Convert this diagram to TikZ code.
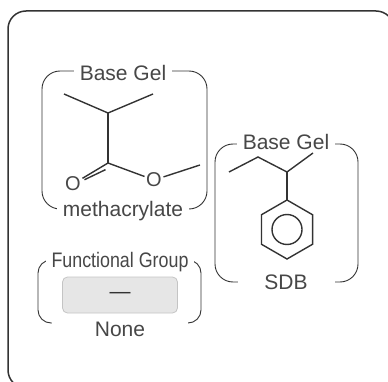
\documentclass[tikz,border=0pt]{standalone}
\usepackage{fontspec}
\setmainfont{Liberation Sans}
\usepackage{graphicx}
\usetikzlibrary{positioning}
\definecolor{ink}{HTML}{333333}
\definecolor{gelgrey}{HTML}{E6E6E6}
\definecolor{geledge}{HTML}{C4C4C4}
\tikzset{
  bond/.style={ink, line width=1.4pt},
  brack/.style={ink, line width=0.9pt, rounded corners=18pt},
  lbl/.style={fill=white, inner xsep=6pt, inner ysep=1pt, text=ink!90, font=\fontsize{21}{24}\selectfont},
  atom/.style={inner sep=1.5pt, text=ink!90, font=\fontsize{20}{22}\selectfont}
}

\begin{document}
\begin{tikzpicture}[x=1pt,y=-1pt]
            \useasboundingbox (0,0) rectangle (388,382);
            \draw[ink, line width=1.5pt, rounded corners=18pt] (8,11) rectangle (394,388);

            % methacrylate
            \draw[brack] (42,71) rectangle (207,209);
            \node[lbl] (mgel) at (123,73) {Base Gel};
            \node[lbl] (mname) at (123,211) {methacrylate};
            \coordinate (ml) at (64,94);
            \coordinate (mr) at (153,94);
            \coordinate (mch) at (108,113);
            \coordinate (mc) at (108,163);
            \node[atom] (mo) at (73,184) {O};
            \node[atom] (meo) at (154,180) {O};
            \coordinate (mme) at (200,165);
            \draw[bond] (ml) -- (mch) -- (mr);
            \draw[bond] (mch) -- (mc);
            \draw[bond] (mc) -- (mo);
            \draw[bond, shorten <=5pt] ([shift={(2,4.5)}]mc) -- ([shift={(2,4.5)}]mo.north east);
            \draw[bond] (mc) -- (meo);
            \draw[bond] (meo) -- (mme);

            % SDB
            \draw[brack] (215,144) rectangle (358,282);
            \node[lbl] (sgel) at (286,142) {Base Gel};
            \node[lbl, minimum width=97pt] (sname) at (286,282) {SDB};
            \coordinate (s1) at (229,172);
            \coordinate (s2) at (258,157);
            \coordinate (s3) at (287,172);
            \coordinate (s4) at (313,153);
            \coordinate (rtop) at (287,200);
            \coordinate (ring) at (287,229.5);
            \draw[bond] (s1) -- (s2) -- (s3) -- (s4);
            \draw[bond] (s3) -- (rtop);
            \draw[bond] (ring) +(90:29.5) -- +(30:29.5) -- +(-30:29.5) -- +(-90:29.5) -- +(-150:29.5) -- +(150:29.5) -- cycle;
            \draw[bond] (ring) circle[radius=15];

            % functional group
            \draw[brack, rounded corners=13pt] (38,260) rectangle (201,323);
            \node[lbl] (fgel) at (120,262) {\scalebox{0.85}[1]{Functional Group}};
            \node[draw=geledge, fill=gelgrey, rounded corners=5pt, line width=0.8pt,
                  minimum width=115pt, minimum height=36pt, text=ink,
                  font=\fontsize{21}{24}\selectfont] (fbox) at (120,295) {—};
            \node[lbl, minimum width=136pt] (fname) at (120,329) {None};

            \end{tikzpicture}
\end{document}
